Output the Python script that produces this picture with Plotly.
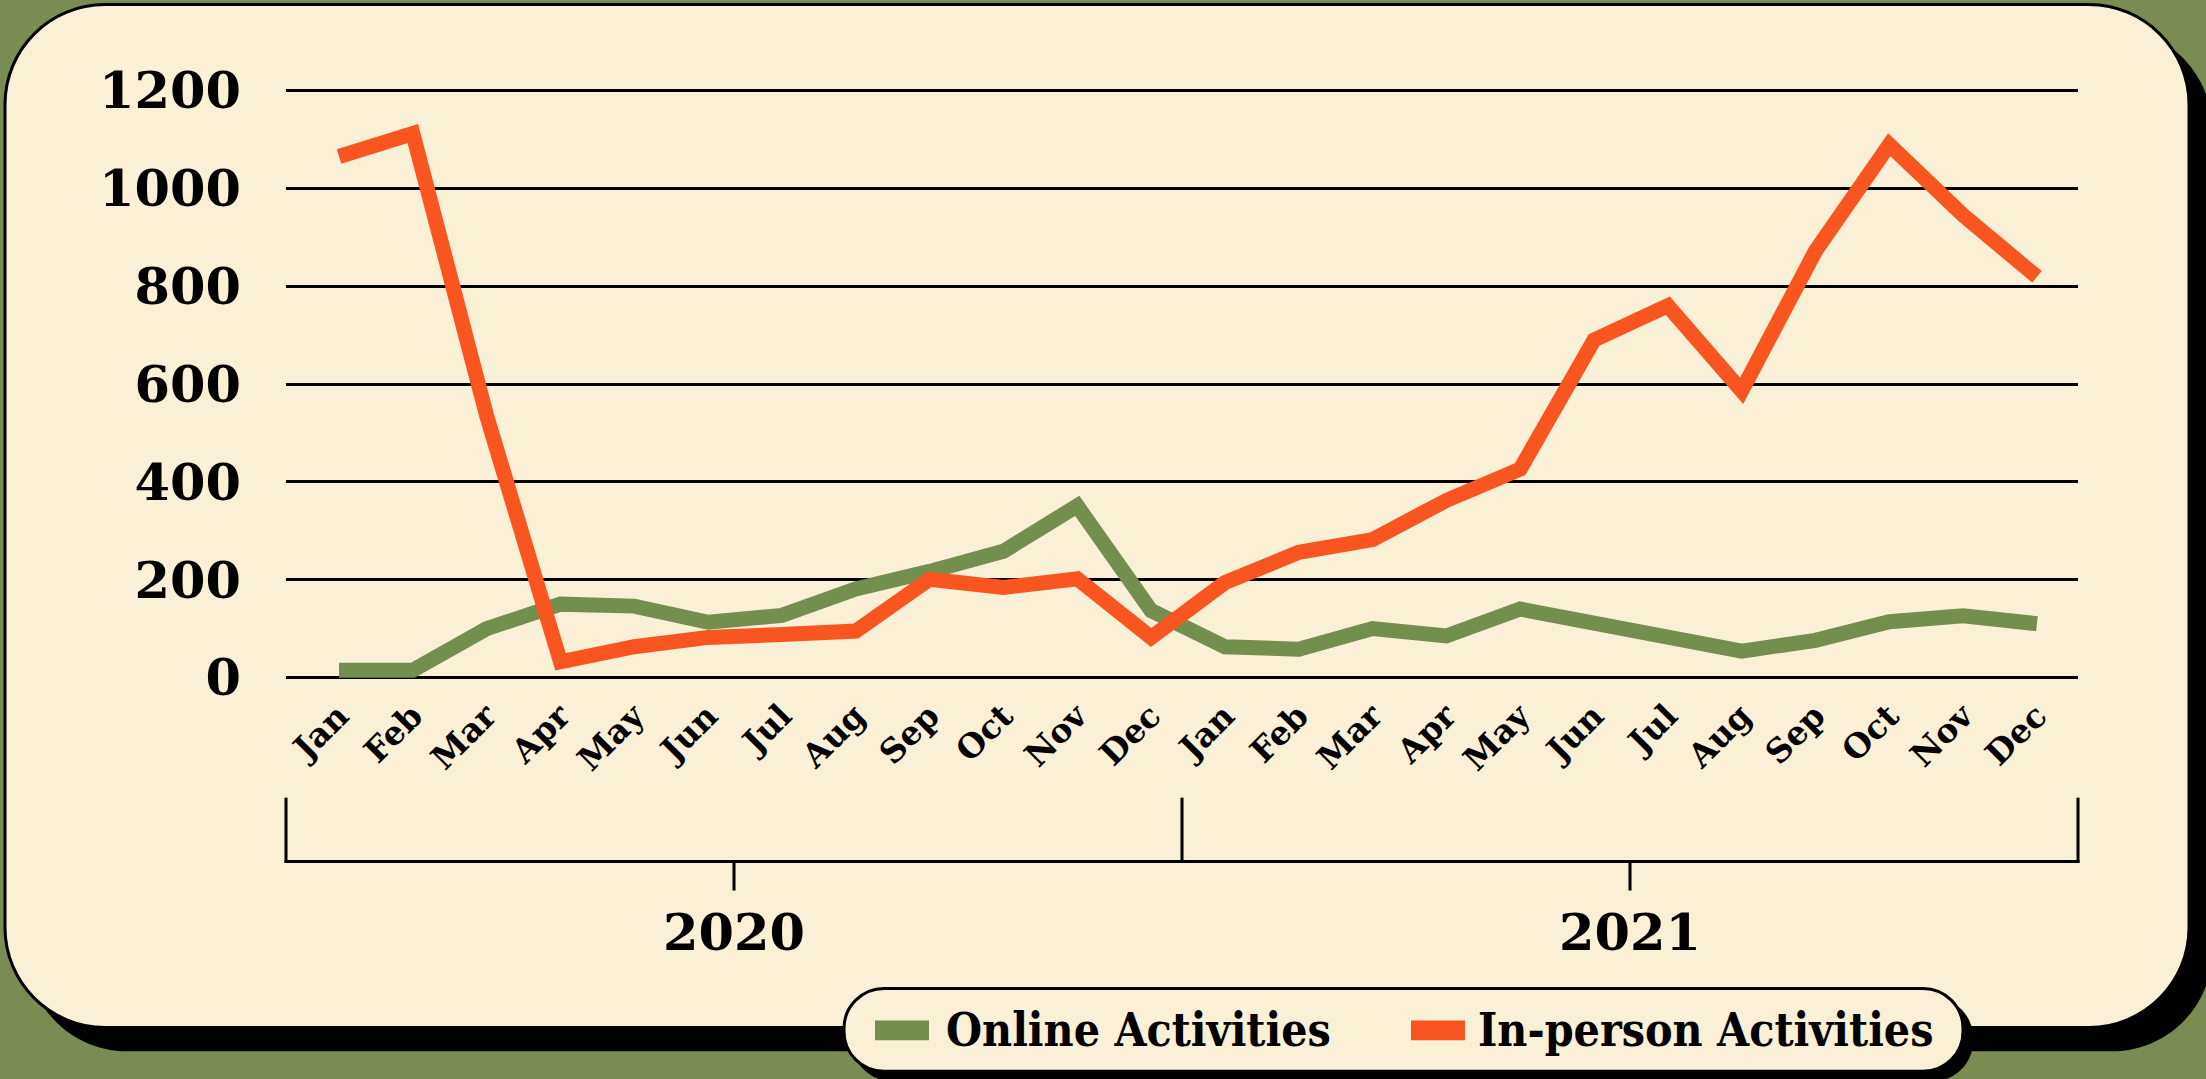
import plotly.graph_objects as go

# ---------------- data ----------------
months = ["Jan", "Feb", "Mar", "Apr", "May", "Jun", "Jul", "Aug", "Sep", "Oct", "Nov", "Dec"]
years = ["2020", "2021"]
x_labels = months * 2
online = [15, 15, 100, 150, 146, 113, 127, 181, 217, 258, 351, 137,
          63, 58, 100, 85, 140, 111, 82, 54, 76, 114, 126, 110]
inperson = [1065, 1112, 535, 32, 63, 82, 88, 95, 201, 184, 202, 82,
            194, 256, 282, 362, 426, 690, 760, 586, 872, 1089, 945, 819]
series_names = ["Online Activities", "In-person Activities"]
y_ticks = [0, 200, 400, 600, 800, 1000, 1200]

# ---------------- style ----------------
GREEN = "#748e4e"
ORANGE = "#f95520"
BG = "#7a8c52"
CREAM = "#f9f0d6"
FONT = "DejaVu Serif"
FONT_C = "DejaVu Serif Condensed, DejaVu Serif"

W, H = 2206, 1079
L, R = 286, 2078          # plot area pixels
T, B = 88.5, 679.2

def px(x):
    return (x - L) / (R - L)

def py(y):
    return (B - y) / (B - T)

def rrect(x0, y0, x1, y1, r):
    k = 0.5523 * r
    pts = [
        f"M{px(x0 + r)},{py(y0)}",
        f"L{px(x1 - r)},{py(y0)}",
        f"C{px(x1 - r + k)},{py(y0)} {px(x1)},{py(y0 + r - k)} {px(x1)},{py(y0 + r)}",
        f"L{px(x1)},{py(y1 - r)}",
        f"C{px(x1)},{py(y1 - r + k)} {px(x1 - r + k)},{py(y1)} {px(x1 - r)},{py(y1)}",
        f"L{px(x0 + r)},{py(y1)}",
        f"C{px(x0 + r - k)},{py(y1)} {px(x0)},{py(y1 - r + k)} {px(x0)},{py(y1 - r)}",
        f"L{px(x0)},{py(y0 + r)}",
        f"C{px(x0)},{py(y0 + r - k)} {px(x0 + r - k)},{py(y0)} {px(x0 + r)},{py(y0)}",
        "Z",
    ]
    return " ".join(pts)

xs = list(range(len(x_labels)))

fig = go.Figure()
fig.add_trace(go.Scatter(x=xs, y=online, mode="lines", name=series_names[0],
                         line=dict(color=GREEN, width=15), showlegend=False))
fig.add_trace(go.Scatter(x=xs, y=inperson, mode="lines", name=series_names[1],
                         line=dict(color=ORANGE, width=15), showlegend=False))

shapes = []
# card shadow + card
shapes.append(dict(type="path", xref="paper", yref="paper", layer="below",
                   path=rrect(27, 28, 2212, 1052, 100), fillcolor="black", line=dict(width=0)))
shapes.append(dict(type="path", xref="paper", yref="paper", layer="below",
                   path=rrect(5, 4, 2189, 1028, 100), fillcolor=CREAM,
                   line=dict(color="black", width=3)))

# year bracket
lw = dict(color="black", width=3)
mid = (L + R) / 2
for xv in (L, mid, R):
    shapes.append(dict(type="line", xref="paper", yref="paper", layer="below",
                       x0=px(xv), x1=px(xv), y0=py(798), y1=py(863), line=lw))
shapes.append(dict(type="line", xref="paper", yref="paper", layer="below",
                   x0=px(L - 1.5), x1=px(R + 1.5), y0=py(862), y1=py(862), line=lw))
for xv in ((L + mid) / 2, (mid + R) / 2):
    shapes.append(dict(type="line", xref="paper", yref="paper", layer="below",
                       x0=px(xv), x1=px(xv), y0=py(862), y1=py(891), line=lw))

# legend box
shapes.append(dict(type="path", xref="paper", yref="paper", layer="below",
                   path=rrect(852, 998, 1973, 1082, 40), fillcolor="black", line=dict(width=0)))
shapes.append(dict(type="path", xref="paper", yref="paper", layer="below",
                   path=rrect(844, 989, 1963, 1072, 40), fillcolor=CREAM,
                   line=dict(color="black", width=3)))
legend_items = [(875, 944, GREEN, series_names[0]), (1411, 1476, ORANGE, series_names[1])]
annotations = []
for ix, tx, col, name in legend_items:
    shapes.append(dict(type="rect", xref="paper", yref="paper", layer="below",
                       x0=px(ix), x1=px(ix + 54), y0=py(1021), y1=py(1041),
                       fillcolor=col, line=dict(width=0)))
    annotations.append(dict(xref="paper", yref="paper", x=px(tx), y=py(1031),
                            xanchor="left", yanchor="middle", showarrow=False, text=name,
                            font=dict(family=FONT_C, size=46, color="black", weight="bold")))

for i, yr in enumerate(years):
    annotations.append(dict(xref="paper", yref="paper", x=px(L + (R - L) * (0.25 + 0.5 * i)),
                            y=py(933), xanchor="center", yanchor="middle", showarrow=False,
                            text=yr, font=dict(family=FONT, size=51, color="black", weight="bold")))

fig.update_layout(
    width=W, height=H,
    margin=dict(l=L, r=W - R, t=T, b=H - B, pad=0),
    paper_bgcolor=BG, plot_bgcolor="rgba(0,0,0,0)",
    shapes=shapes, annotations=annotations, showlegend=False,
    xaxis=dict(range=[-0.718, 23.556], tickmode="array", tickvals=xs, ticktext=x_labels,
               tickangle=-45, showgrid=False, zeroline=False, showline=False, ticks="",
               tickfont=dict(family=FONT, size=33, color="black", weight="bold"),
               ticklabelstandoff=10),
    yaxis=dict(range=[-3, 1203], tickmode="array", tickvals=y_ticks,
               showgrid=True, gridcolor="black", gridwidth=3, zeroline=False, showline=False,
               ticks="", ticklabelstandoff=44,
               tickfont=dict(family=FONT, size=51, color="black", weight="bold")),
)

fig.write_html("out.html", config={"displayModeBar": False},
               post_script="document.body.style.margin='0';document.body.style.overflow='hidden';")
